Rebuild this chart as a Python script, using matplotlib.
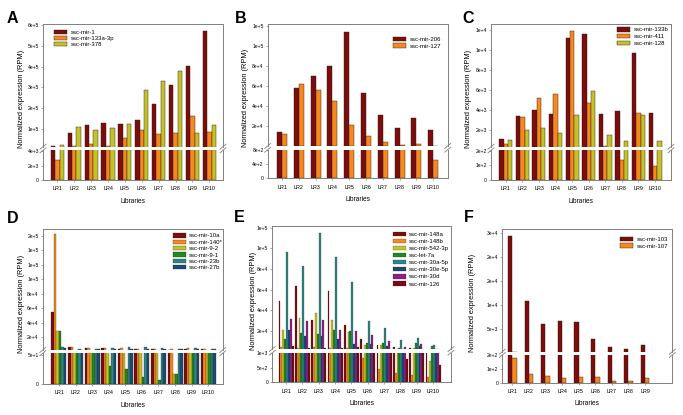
import matplotlib
matplotlib.use("Agg")
import matplotlib.pyplot as plt
from matplotlib.lines import Line2D
import numpy as np

plt.rcParams['font.family'] = ['Liberation Sans', 'DejaVu Sans']

W, H = 683, 415

libs10 = ['LR1', 'LR2', 'LR3', 'LR4', 'LR5', 'LR6', 'LR7', 'LR8', 'LR9', 'LR10']
libs9 = libs10[:9]

# panel A
a_names = ['ssc-mir-1', 'ssc-mir-133a-3p', 'ssc-mir-378']
a_mir1 = [1.7e4, 8.1e4, 1.18e5, 1.27e5, 1.21e5, 1.42e5, 2.17e5, 3.09e5, 4.02e5, 5.73e5]
a_mir133a = [2.72e3, 1.8e4, 2.6e4, 1.8e4, 5.7e4, 9.4e4, 7.4e4, 7.9e4, 1.61e5, 8.4e4]
a_mir378 = [2.0e4, 1.06e5, 9.4e4, 1.02e5, 1.22e5, 2.86e5, 3.3e5, 3.78e5, 7.9e4, 1.16e5]

# panel B
b_names = ['ssc-mir-206', 'ssc-mir-127']
b_mir206 = [1.41e4, 5.83e4, 7.05e4, 8.0e4, 1.138e5, 5.3e4, 3.09e4, 1.8e4, 2.82e4, 1.6e4]
b_mir127 = [1.18e4, 6.16e4, 5.6e4, 4.48e4, 2.07e4, 1.0e4, 3.9e3, 900, 2.2e3, 504]

# panel C
c_names = ['ssc-mir-133b', 'ssc-mir-411', 'ssc-mir-128']
c_mir133b = [1.13e3, 3.4e3, 4.05e3, 3.6e3, 1.123e4, 1.16e4, 3.6e3, 3.92e3, 9.78e3, 3.76e3]
c_mir411 = [600, 3.37e3, 5.25e3, 5.59e3, 1.19e4, 4.7e3, 450, 137, 3.7e3, 98]
c_mir128 = [1.0e3, 2.0e3, 2.23e3, 1.73e3, 3.5e3, 5.95e3, 1.56e3, 930, 3.53e3, 930]

# panel D
d_names = ['ssc-mir-10a', 'ssc-mir-140*', 'ssc-mir-9-2', 'ssc-mir-9-1', 'ssc-mir-23b', 'ssc-mir-27b']
d_mir10a = [5.44e4, 7.0e3, 4.9e3, 4.9e3, 4.0e3, 3.5e3, 3.5e3, 2.8e3, 4.0e3, 3.5e3]
d_mir140 = [1.62e5, 6.2e3, 5.7e3, 5.7e3, 4.9e3, 3.5e3, 3.5e3, 3.5e3, 4.9e3, 4.5e3]
d_mir9_2 = [2.87e4, 1000, 1000, 1000, 1000, 1000, 1000, 18, 1000, 1000]
d_mir9_1 = [2.87e4, 1000, 1000, 31, 26.5, 12, 6.5, 18, 1000, 1000]
d_mir23b = [6.2e3, 3.9e3, 3.9e3, 4.9e3, 6.3e3, 6.3e3, 5.8e3, 3.9e3, 5.8e3, 3.9e3]
d_mir27b = [4.85e3, 2.9e3, 3.5e3, 3.5e3, 3.9e3, 3.5e3, 3.5e3, 3.5e3, 3.9e3, 3.5e3]

# panel E
e_names = ['ssc-mir-148a', 'ssc-mir-148b', 'ssc-mir-542-3p', 'ssc-let-7a',
           'ssc-mir-30a-5p', 'ssc-mir-30e-5p', 'ssc-mir-30d', 'ssc-mir-126']
e_mir148a = [4.88e4, 6.33e4, 3.04e4, 5.87e4, 2.61e4, 1.26e4, 6.8e3, 4.5e3, 3.8e3, 2.9e3]
e_mir148b = [4.5e3, 4.0e3, 4.5e3, 4.0e3, 3.5e3, 830, 445, 300, 247, 190]
e_mir542 = [2.07e4, 3.29e4, 3.75e4, 3.07e4, 1.9e4, 6.0e3, 6.2e3, 2.8e3, 3.2e3, 720]
e_let7a = [1.26e4, 1.81e4, 1.74e4, 2.07e4, 2.0e4, 8.4e3, 8.4e3, 3.5e3, 8.7e3, 5.8e3]
e_mir30a = [9.65e4, 8.27e4, 1.15e5, 9.17e4, 6.72e4, 2.97e4, 2.29e4, 1.1e4, 1.3e4, 6.6e3]
e_mir30e = [2.13e4, 1.49e4, 1.52e4, 1.26e4, 7.7e3, 7.4e3, 5.5e3, 3.0e3, 5.5e3, 3.0e3]
e_mir30d = [3.2e4, 2.97e4, 3.07e4, 2.13e4, 2.03e4, 1.6e4, 1.04e4, 4.5e3, 7.3e3, 3.0e3]
e_mir126 = [5.5e3, 3.9e3, 4.0e3, 3.8e3, 5.0e3, 2.0e3, 2.0e3, 777, 3.0e3, 584]

# panel F
f_names = ['ssc-mir-103', 'ssc-mir-107']
f_mir103 = [2.45e4, 1.086e4, 6.05e3, 6.67e3, 6.5e3, 2.9e3, 1.17e3, 820, 1.72e3]
f_mir107 = [181, 64, 46, 34, 43, 41, 14, 12, 34]

# tick labels (as printed in the original)
a_hi_ticks = [1e5, 2e5, 3e5, 4e5, 5e5, 6e5]
a_hi_labels = ['1e+5', '2e+5', '3e+5', '4e+5', '5e+5', '6e+5']
a_lo_ticks = [0, 2e3, 4e3]
a_lo_labels = ['0', '2e+3', '4e+3']
b_hi_ticks = [2e4, 4e4, 6e4, 8e4, 1e5, 1.2e5]
b_hi_labels = ['2e+4', '4e+4', '6e+4', '8e+4', '1e+5', '1e+5']
b_lo_ticks = [0, 400, 800]
b_lo_labels = ['0', '4e+2', '8e+2']
c_hi_ticks = [2e3, 4e3, 6e3, 8e3, 1e4, 1.2e4]
c_hi_labels = ['2e+3', '4e+3', '6e+3', '8e+3', '1e+4', '1e+4']
c_lo_ticks = [0, 100, 200]
c_lo_labels = ['0', '1e+2', '2e+2']
d_hi_ticks = [2e4, 4e4, 6e4, 8e4, 1e5, 1.2e5, 1.4e5, 1.6e5]
d_hi_labels = ['2e+4', '4e+4', '6e+4', '8e+4', '1e+5', '1e+5', '1e+5', '2e+5']
d_lo_ticks = [0, 50]
d_lo_labels = ['0', '5e+1']
e_hi_ticks = [2e4, 4e4, 6e4, 8e4, 1e5, 1.2e5]
e_hi_labels = ['2e+4', '4e+4', '6e+4', '8e+4', '1e+5', '1e+5']
e_lo_ticks = [0, 500, 1000]
e_lo_labels = ['0', '5e+2', '1e+3']
f_hi_ticks = [5e3, 1e4, 1.5e4, 2e4, 2.5e4]
f_hi_labels = ['5e+3', '1e+4', '2e+4', '2e+4', '3e+4']
f_lo_ticks = [0, 100, 200]
f_lo_labels = ['0', '1e+2', '2e+2']

DRED = '#7b0d0d'
ORNG = '#f5891f'
OLIV = '#c4c22a'
GREN = '#1f8a23'
TEAL = '#2a8785'
DBLU = '#1a4a7a'
PURP = '#8e1e8e'
MARN = '#760a16'
FRAME = '#808080'

fig = plt.figure(figsize=(W / 100, H / 100), dpi=100)


def px_axes(left, right, top, bottom):
    return fig.add_axes([left / W, 1 - bottom / H, (right - left) / W, (bottom - top) / H])


def slash(x, y):
    fig.add_artist(Line2D([(x - 3) / W, (x + 3) / W], [1 - (y + 2.5) / H, 1 - (y - 2.5) / H],
                          transform=fig.transFigure, color=FRAME, lw=0.6))


def draw_panel(letter, letter_xy, libs, names, series, colors, width, xlim,
               xr, hi, lo, hi_ylim, lo_ylim, hi_ticks, lo_ticks, legend_xy, ylab_off,
               lspace=0.25, elw=0.3):
    l, r = xr
    ax_hi = px_axes(l, r, hi[0], hi[1])
    ax_lo = px_axes(l, r, lo[0], lo[1])
    x = np.arange(len(libs))
    n = len(series)
    for i, (vals, c, name) in enumerate(zip(series, colors, names)):
        off = (i - (n - 1) / 2) * width
        for ax in (ax_hi, ax_lo):
            ax.bar(x + off, vals, width, color=c, edgecolor='#2a1a10', linewidth=elw, label=name)
    for ax in (ax_hi, ax_lo):
        ax.set_xlim(*xlim)
        for s in ax.spines.values():
            s.set_color(FRAME)
            s.set_linewidth(0.7)
        ax.tick_params(axis='y', labelsize=3.6, length=1.5, width=0.5, color=FRAME, pad=1.5)
    ax_hi.set_ylim(*hi_ylim)
    ax_lo.set_ylim(*lo_ylim)
    ax_hi.spines['bottom'].set_visible(False)
    ax_lo.spines['top'].set_visible(False)
    ax_hi.set_xticks([])
    ax_lo.set_xticks(x)
    ax_lo.set_xticklabels(libs)
    ax_lo.tick_params(axis='x', labelsize=3.9, length=1.5, width=0.5, color=FRAME, pad=3)
    ax_hi.set_yticks(hi_ticks[0])
    ax_hi.set_yticklabels(hi_ticks[1])
    ax_lo.set_yticks(lo_ticks[0])
    ax_lo.set_yticklabels(lo_ticks[1])

    for sx in (l, r):
        slash(sx, hi[1])
        slash(sx, lo[0])

    ax_hi.legend(loc='upper left', bbox_to_anchor=(legend_xy[0] / W, 1 - legend_xy[1] / H),
                 bbox_transform=fig.transFigure, frameon=False, fontsize=4.3,
                 borderpad=0, borderaxespad=0, handlelength=2.2, handleheight=0.75,
                 handletextpad=0.55, labelspacing=lspace)

    fig.text(letter_xy[0] / W, 1 - letter_xy[1] / H, letter, fontsize=11.5,
             fontweight='bold', ha='left', va='baseline')
    fig.text((l - ylab_off) / W, 1 - ((hi[0] + lo[1]) / 2 - 3) / H, 'Normalized expression (RPM)',
             rotation=90, ha='center', va='center', fontsize=5.3)
    fig.text((l + r) / 2 / W, 1 - (lo[1] + 21) / H, 'Libraries', ha='center', va='center',
             fontsize=4.7)


draw_panel('A', (7, 23.3), libs10, a_names, [a_mir1, a_mir133a, a_mir378],
           [DRED, ORNG, OLIV], 0.26, (-0.85, 9.81), (43, 223), (24, 146.7), (150.3, 180),
           (1.32e4, 6.05e5), (0, 4.1e3), (a_hi_ticks, a_hi_labels), (a_lo_ticks, a_lo_labels),
           (54.3, 30), 21.3, lspace=0.12)
draw_panel('B', (235, 22.7), libs10, b_names, [b_mir206, b_mir127],
           [DRED, ORNG], 0.3, (-0.85, 9.86), (267.7, 447.7), (24, 146), (149.7, 178.3),
           (200, 1.22e5), (0, 800), (b_hi_ticks, b_hi_labels), (b_lo_ticks, b_lo_labels),
           (393.3, 36.5), 22)
draw_panel('C', (462.3, 23), libs10, c_names, [c_mir133b, c_mir411, c_mir128],
           [DRED, ORNG, OLIV], 0.26, (-0.89, 9.96), (491, 671), (24, 146.7), (150.3, 180),
           (365, 1.263e4), (0, 203), (c_hi_ticks, c_hi_labels), (c_lo_ticks, c_lo_labels),
           (617.3, 27.2), 22.3)
draw_panel('D', (6.7, 223.3), libs10, d_names,
           [d_mir10a, d_mir140, d_mir9_2, d_mir9_1, d_mir23b, d_mir27b],
           [DRED, ORNG, OLIV, GREN, TEAL, DBLU], 0.15, (-0.98, 9.87), (42.7, 222.7),
           (229, 350), (353.3, 384), (2.5e3, 1.692e5), (0, 53),
           (d_hi_ticks, d_hi_labels), (d_lo_ticks, d_lo_labels), (172.7, 233.2), 21.3,
           lspace=0.18, elw=0.2)
draw_panel('E', (234.3, 221.7), libs10, e_names,
           [e_mir148a, e_mir148b, e_mir542, e_let7a, e_mir30a, e_mir30e, e_mir30d, e_mir126],
           [DRED, ORNG, OLIV, GREN, TEAL, DBLU, PURP, MARN], 0.115, (-0.84, 10.1),
           (272.3, 451), (226, 349), (352.7, 382.3), (2.6e3, 1.216e5), (0, 1e3),
           (e_hi_ticks, e_hi_labels), (e_lo_ticks, e_lo_labels), (392.7, 231.8), 18.6,
           lspace=0.3, elw=0.15)
draw_panel('F', (464.3, 221.7), libs9, f_names, [f_mir103, f_mir107],
           [DRED, ORNG], 0.26, (-0.6, 9.64), (502.3, 672.3), (229, 351.7), (355, 382.7),
           (250, 2.59e4), (0, 200), (f_hi_ticks, f_hi_labels), (f_lo_ticks, f_lo_labels),
           (620, 236.5), 29.7)

fig.savefig('out.png', dpi=100)
